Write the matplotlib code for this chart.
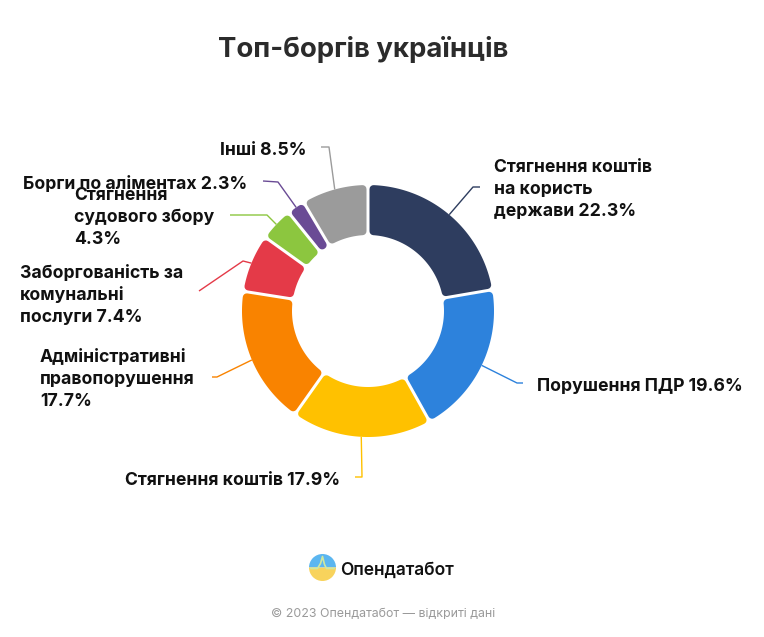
import numpy as np
import matplotlib
matplotlib.use("Agg")
import matplotlib.pyplot as plt
from matplotlib.patches import Polygon, Wedge

plt.rcParams['font.family'] = ['Inter', 'DejaVu Sans']

labels = ["Стягнення коштів\nна користь\nдержави", "Порушення ПДР", "Стягнення коштів",
          "Адміністративні\nправопорушення\n", "Заборгованість за\nкомунальні\nпослуги",
          "Стягнення\nсудового збору\n", "Борги по аліментах", "Інші"]
values = [22.3, 19.6, 17.9, 17.7, 7.4, 4.3, 2.3, 8.5]
colors = ["#2e3d5f", "#2d82dc", "#ffc100", "#f98300", "#e43a48", "#8cc63f", "#6a4b95", "#9b9b9b"]

# label layout (pixels): text x, first baseline y, alignment, leader bends
label_pos = [(494, 173, 'left'), (537, 391, 'left'), (340, 485, 'right'), (40, 363, 'left'),
             (20, 279, 'left'), (74, 201, 'left'), (23, 189, 'left'), (220, 155, 'left')]
leader_bends = [[(473, 187), (480, 187)], [(517, 383), (523, 383)], [(362, 477), (355, 477)],
                [(217, 377), (212, 377)], [(243, 261), (199, 291)], [(267, 215), (230, 215)],
                [(278, 182), (263, 181)], [(329, 147), (321, 147)]]
line_step = 21.5

W, H = 764, 637
cx, cy = 368, 311
r_out, ring = 126, 50
gap, rc = 3, 4

fig = plt.figure(figsize=(W / 100, H / 100), dpi=100)
ax = fig.add_axes([0, 0, 1, 1])

wedges, _ = ax.pie(values, colors=colors, startangle=-90, counterclock=True,
                   radius=r_out, center=(cx, cy), wedgeprops=dict(width=ring))
ax.set_xlim(0, W)
ax.set_ylim(H, 0)
ax.set_aspect('equal')
ax.axis('off')


def rounded_ring(a1, a2, color):
    ro = r_out - rc
    ri = r_out - ring + rc
    d = gap / 2 + rc
    do = np.degrees(np.arcsin(d / ro))
    di = np.degrees(np.arcsin(d / ri))
    t_out = np.radians(np.linspace(a1 + do, a2 - do, 80))
    t_in = np.radians(np.linspace(a2 - di, a1 + di, 80))
    xs = np.concatenate([cx + ro * np.cos(t_out), cx + ri * np.cos(t_in)])
    ys = np.concatenate([cy + ro * np.sin(t_out), cy + ri * np.sin(t_in)])
    p = Polygon(np.column_stack([xs, ys]), closed=True, facecolor=color, edgecolor=color,
                lw=2 * rc * 0.72, joinstyle='round')
    ax.add_patch(p)


for w, lab, v, c, (tx, ty, ha), bends in zip(wedges, labels, values, colors, label_pos, leader_bends):
    w.set_visible(False)
    rounded_ring(w.theta1, w.theta2, c)
    mid = np.radians((w.theta1 + w.theta2) / 2)
    sx, sy = cx + r_out * np.cos(mid), cy + r_out * np.sin(mid)
    px = [sx] + [b[0] for b in bends]
    py = [sy] + [b[1] for b in bends]
    ax.plot(px, py, color=c, lw=1.0, solid_capstyle='butt')
    txt = lab + ("" if lab.endswith("\n") else " ") + f"{v}%"
    n = txt.count("\n")
    # baseline alignment uses the last line, so shift by the number of extra lines
    ax.text(tx, ty + n * line_step, txt, ha=ha, va='baseline', fontsize=12.7, fontweight='bold',
            color='#111111', linespacing=1.4, multialignment='left')

ax.text(363, 57, "Топ-боргів українців", ha='center', va='baseline', fontsize=19.8,
        fontweight='bold', color='#2b2b2b')

# logo
lx, ly, lr = 322.5, 567.5, 13.5
ax.add_patch(Wedge((lx, ly), lr, 180, 360, facecolor='#5bb6f0', edgecolor='none'))
ax.add_patch(Wedge((lx, ly), lr, 0, 180, facecolor='#f8d35c', edgecolor='none'))
ax.plot([lx - lr + 2, lx - 5, lx - 2, lx, lx + 2, lx + 4, lx + lr - 2],
        [ly + 1, ly + 1, ly - 4, ly - 11, ly - 3, ly + 1, ly + 1], color='#cfe8a0', lw=1.2)
ax.text(340, 575, "Опендатабот", ha='left', va='baseline', fontsize=12.5,
        fontweight='semibold', color='#111111')
ax.text(383, 617, "© 2023 Опендатабот — відкриті дані", ha='center', va='baseline',
        fontsize=8.9, color='#9a9a9a')

fig.savefig("out.png", dpi=100)
